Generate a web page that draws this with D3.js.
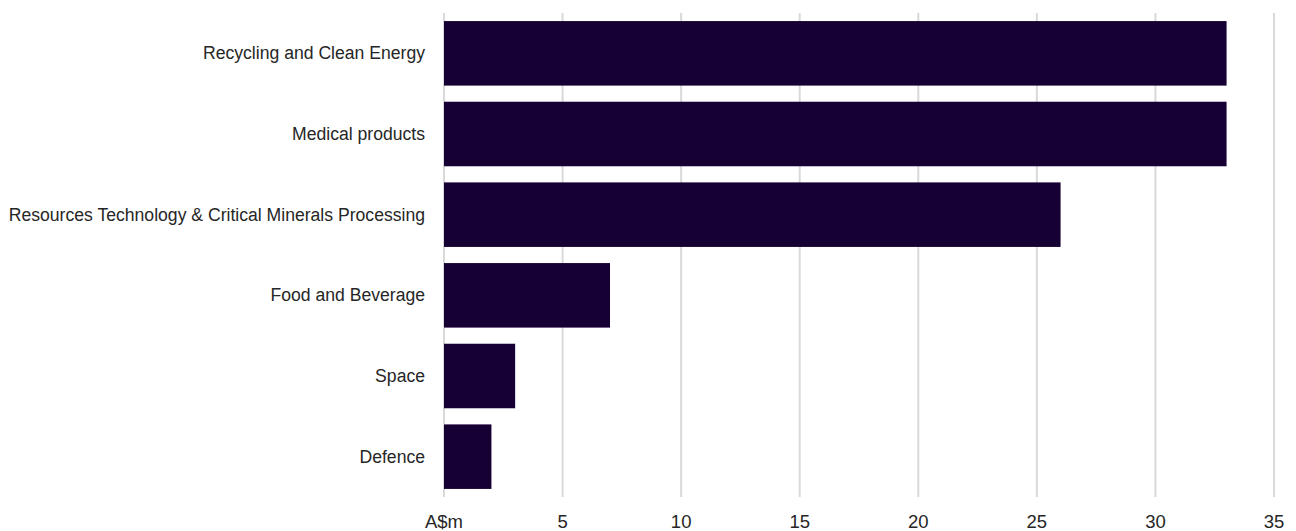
<!DOCTYPE html>
<html><head><meta charset="utf-8">
<script src="https://cdn.jsdelivr.net/npm/d3@7"></script>
<style>body{margin:0;background:#fff;}svg{display:block;}</style>
</head><body>
<svg id="chart" width="1296" height="531"></svg>
<script>
const categories = ["Recycling and Clean Energy","Medical products","Resources Technology & Critical Minerals Processing","Food and Beverage","Space","Defence"];
const values = [33,33,26,7,3,2];
const tickValues = [0,5,10,15,20,25,30,35];
const tickLabels = ["A$m","5","10","15","20","25","30","35"];

const svg = d3.select("#chart");
const x = d3.scaleLinear().domain([0,35]).range([444,1274]);
const y = d3.scaleBand().domain(categories).range([13,497]).paddingInner(0.2).paddingOuter(0.1);

svg.append("g").selectAll("line").data(tickValues).join("line")
  .attr("x1", d=>x(d)).attr("x2", d=>x(d)).attr("y1", 13).attr("y2", 497)
  .attr("stroke", "#d9d9d9").attr("stroke-width", 2);

svg.append("g").selectAll("rect").data(categories).join("rect")
  .attr("x", x(0)).attr("y", d=>y(d))
  .attr("width", (d,i)=>x(values[i])-x(0)).attr("height", y.bandwidth())
  .attr("fill", "#160033");

svg.append("g").selectAll("text").data(categories).join("text")
  .attr("x", 425).attr("y", d=>y(d)+y.bandwidth()/2)
  .attr("text-anchor","end").attr("dominant-baseline","central")
  .attr("font-family","Liberation Sans, Arial, sans-serif").attr("font-size",17.6)
  .attr("fill","#262626").text(d=>d);

svg.append("g").selectAll("text").data(tickValues).join("text")
  .attr("x", d=>x(d)).attr("y", 528)
  .attr("text-anchor","middle")
  .attr("font-family","Liberation Sans, Arial, sans-serif").attr("font-size",18.5)
  .attr("fill","#262626").text((d,i)=>tickLabels[i]);
</script>
</body></html>
